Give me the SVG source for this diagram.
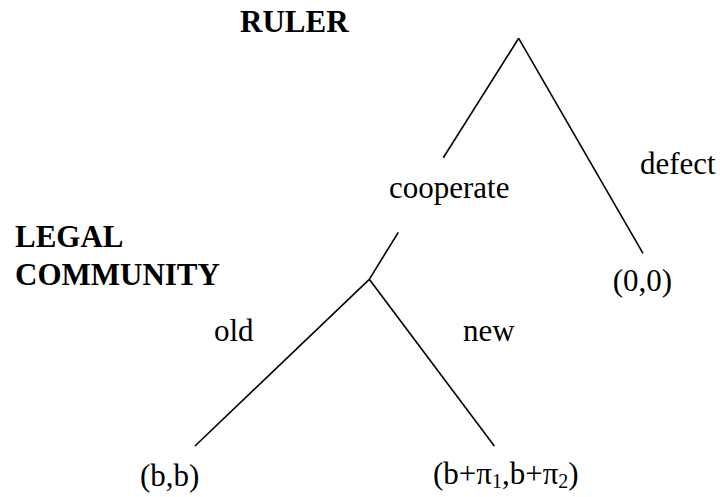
<svg xmlns="http://www.w3.org/2000/svg" width="722" height="497" viewBox="0 0 722 497" font-family="'Liberation Serif', 'Times New Roman', Times, serif" font-size="31">
<style>
text{font-family:'Liberation Serif','Times New Roman',Times,serif;font-size:31px;fill:#000}
.b{font-weight:bold}
.sub{font-size:20px}
.e{stroke:#000;stroke-width:1.6;fill:none;stroke-linecap:butt}
</style>
<rect width="722" height="497" fill="#fff"/>
<g id="connectors">
<line class="e" x1="518.7" y1="38.3" x2="443.3" y2="157.7"/>
<line class="e" x1="518.7" y1="38.3" x2="643" y2="253.3"/>
<line class="e" x1="398.3" y1="232.3" x2="369.3" y2="279.3"/>
<line class="e" x1="369.3" y1="279.3" x2="195" y2="446"/>
<line class="e" x1="369.3" y1="279.3" x2="494.3" y2="446"/>
</g>
<g id="ruler"><text class="b" x="240" y="31.5">RULER</text></g>
<g id="legal-community"><text class="b" x="15" y="246.5">LEGAL</text><text class="b" x="15" y="285">COMMUNITY</text></g>
<g id="label-cooperate"><text x="389" y="198">cooperate</text></g>
<g id="label-defect"><text x="640" y="174">defect</text></g>
<g id="payoff-00"><text x="612.7" y="291">(0,0)</text></g>
<g id="label-old"><text x="214" y="341">old</text></g>
<g id="label-new"><text x="463" y="341">new</text></g>
<g id="payoff-bb"><text x="140" y="486">(b,b)</text></g>
<g id="payoff-bpi"><text x="433" y="484">(b+π<tspan class="sub" dy="4">1</tspan><tspan dy="-4">,b+π</tspan><tspan class="sub" dy="4">2</tspan><tspan dy="-4">)</tspan></text></g>
</svg>
